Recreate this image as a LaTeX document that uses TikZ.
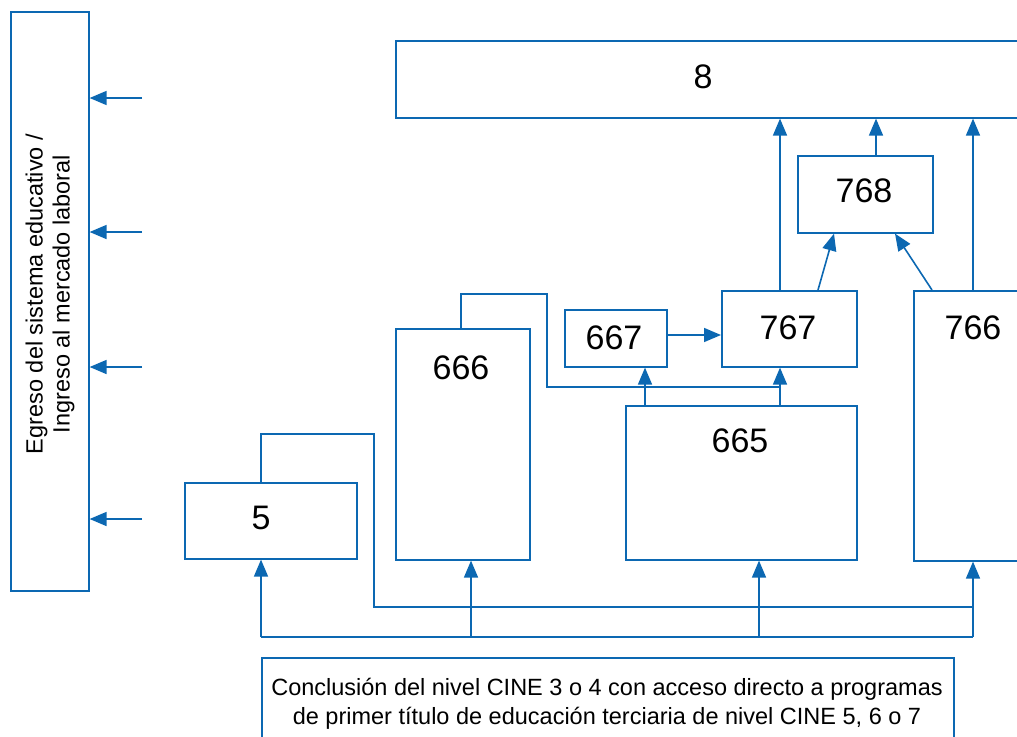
\documentclass[tikz,border=0pt]{standalone}
\usepackage{fontspec}
\setmainfont{Liberation Sans}
\usetikzlibrary{arrows.meta}
\definecolor{cblue}{RGB}{12,104,178}
\begin{document}
\begin{tikzpicture}[x=1pt,y=-1pt,
  box/.style={draw=cblue, line width=1.6pt, inner sep=0pt, anchor=north west},
  lbl/.style={font=\fontsize{34}{40}\selectfont, inner sep=0pt},
  conn/.style={draw=cblue, line width=1.6pt},
  arr/.style={conn, -{Triangle[length=17pt,width=14pt]}}]
\useasboundingbox (0,0) rectangle (1017,736);
\clip (0,0) rectangle (1017,736);
% boxes
\node[box, minimum width=78pt, minimum height=579pt] (left) at (10,11) {};
\node[rotate=90, align=center, font=\fontsize{23.5}{27}\selectfont] at (50,294) {Egreso del sistema educativo /\\Ingreso al mercado laboral};
\node[box, minimum width=640pt, minimum height=77pt] (n8) at (395,40) {};
\node[box, minimum width=135pt, minimum height=77pt] (n768) at (797,155) {};
\node[box, minimum width=102pt, minimum height=57pt] (n667) at (564,309) {};
\node[box, minimum width=135pt, minimum height=76pt] (n767) at (721,290) {};
\node[box, minimum width=122pt, minimum height=270pt] (n766) at (913,290) {};
\node[box, minimum width=134pt, minimum height=231pt] (n666) at (395,328) {};
\node[box, minimum width=231pt, minimum height=154pt] (n665) at (625,405) {};
\node[box, minimum width=172pt, minimum height=76pt] (n5) at (184,482) {};
\node[box, minimum width=692pt, minimum height=110pt] (bot) at (261,657) {};
% labels
\node[lbl] (t8) at (703,77) {8};
\node[lbl] (t768) at (864,191) {768};
\node[lbl] (t767) at (788,328) {767};
\node[lbl] (t766) at (973,328) {766};
\node[lbl] (t667) at (614,338) {667};
\node[lbl] (t666) at (461,368) {666};
\node[lbl] (t665) at (740,441) {665};
\node[lbl] (t5) at (261,518) {5};
\node[align=center, font=\fontsize{23.5}{29}\selectfont] (tb) at (607,704) {Conclusión del nivel CINE 3 o 4 con acceso directo a programas\\de primer título de educación terciaria de nivel CINE 5, 6 o 7};
% left arrows
\foreach \yy/\nm in {98/a1,232/a2,367/a3,519/a4}{
  \coordinate (\nm) at (142,\yy);
  \draw[arr] (\nm) -- (\nm -| left.east);
}
% bottom distribution
\coordinate (b1) at (261,637);
\coordinate (b2) at (471,637);
\coordinate (b3) at (759,637);
\coordinate (b4) at (973,637);
\draw[conn] (b1) -- (b4);
\draw[arr] (b1) -- (b1 |- n5.south);
\draw[arr] (b2) -- (b2 |- n666.south);
\draw[arr] (b3) -- (b3 |- n665.south);
\draw[arr] (b4) -- (b4 |- n766.south);
% from 5 to 766
\draw[conn] (261,0 |- n5.north) -- (261,434) -- (374,434) -- (374,607) -- (b4 |- 0,607);
% from 666 to 767
\coordinate (c767) at (780,0 |- n767.south);
\draw[conn] (461,0 |- n666.north) -- (461,294) -- (547,294) -- (547,387) -- (780,387);
\draw[arr] (780,0 |- n665.north) -- (c767);
\draw[arr] (645,0 |- n665.north) -- (645,0 |- n667.south);
\draw[arr] (n667.east |- 0,335) -- (n767.west |- 0,335);
% to 768 and 8
\draw[arr] (780,0 |- n767.north) -- (780,0 |- n8.south);
\draw[arr] (818,0 |- n767.north) -- (834,0 |- n768.south);
\draw[arr] (932,0 |- n766.north) -- (895,0 |- n768.south);
\draw[arr] (973,0 |- n766.north) -- (973,0 |- n8.south);
\draw[arr] (876,0 |- n768.north) -- (876,0 |- n8.south);
\end{tikzpicture}
\end{document}
